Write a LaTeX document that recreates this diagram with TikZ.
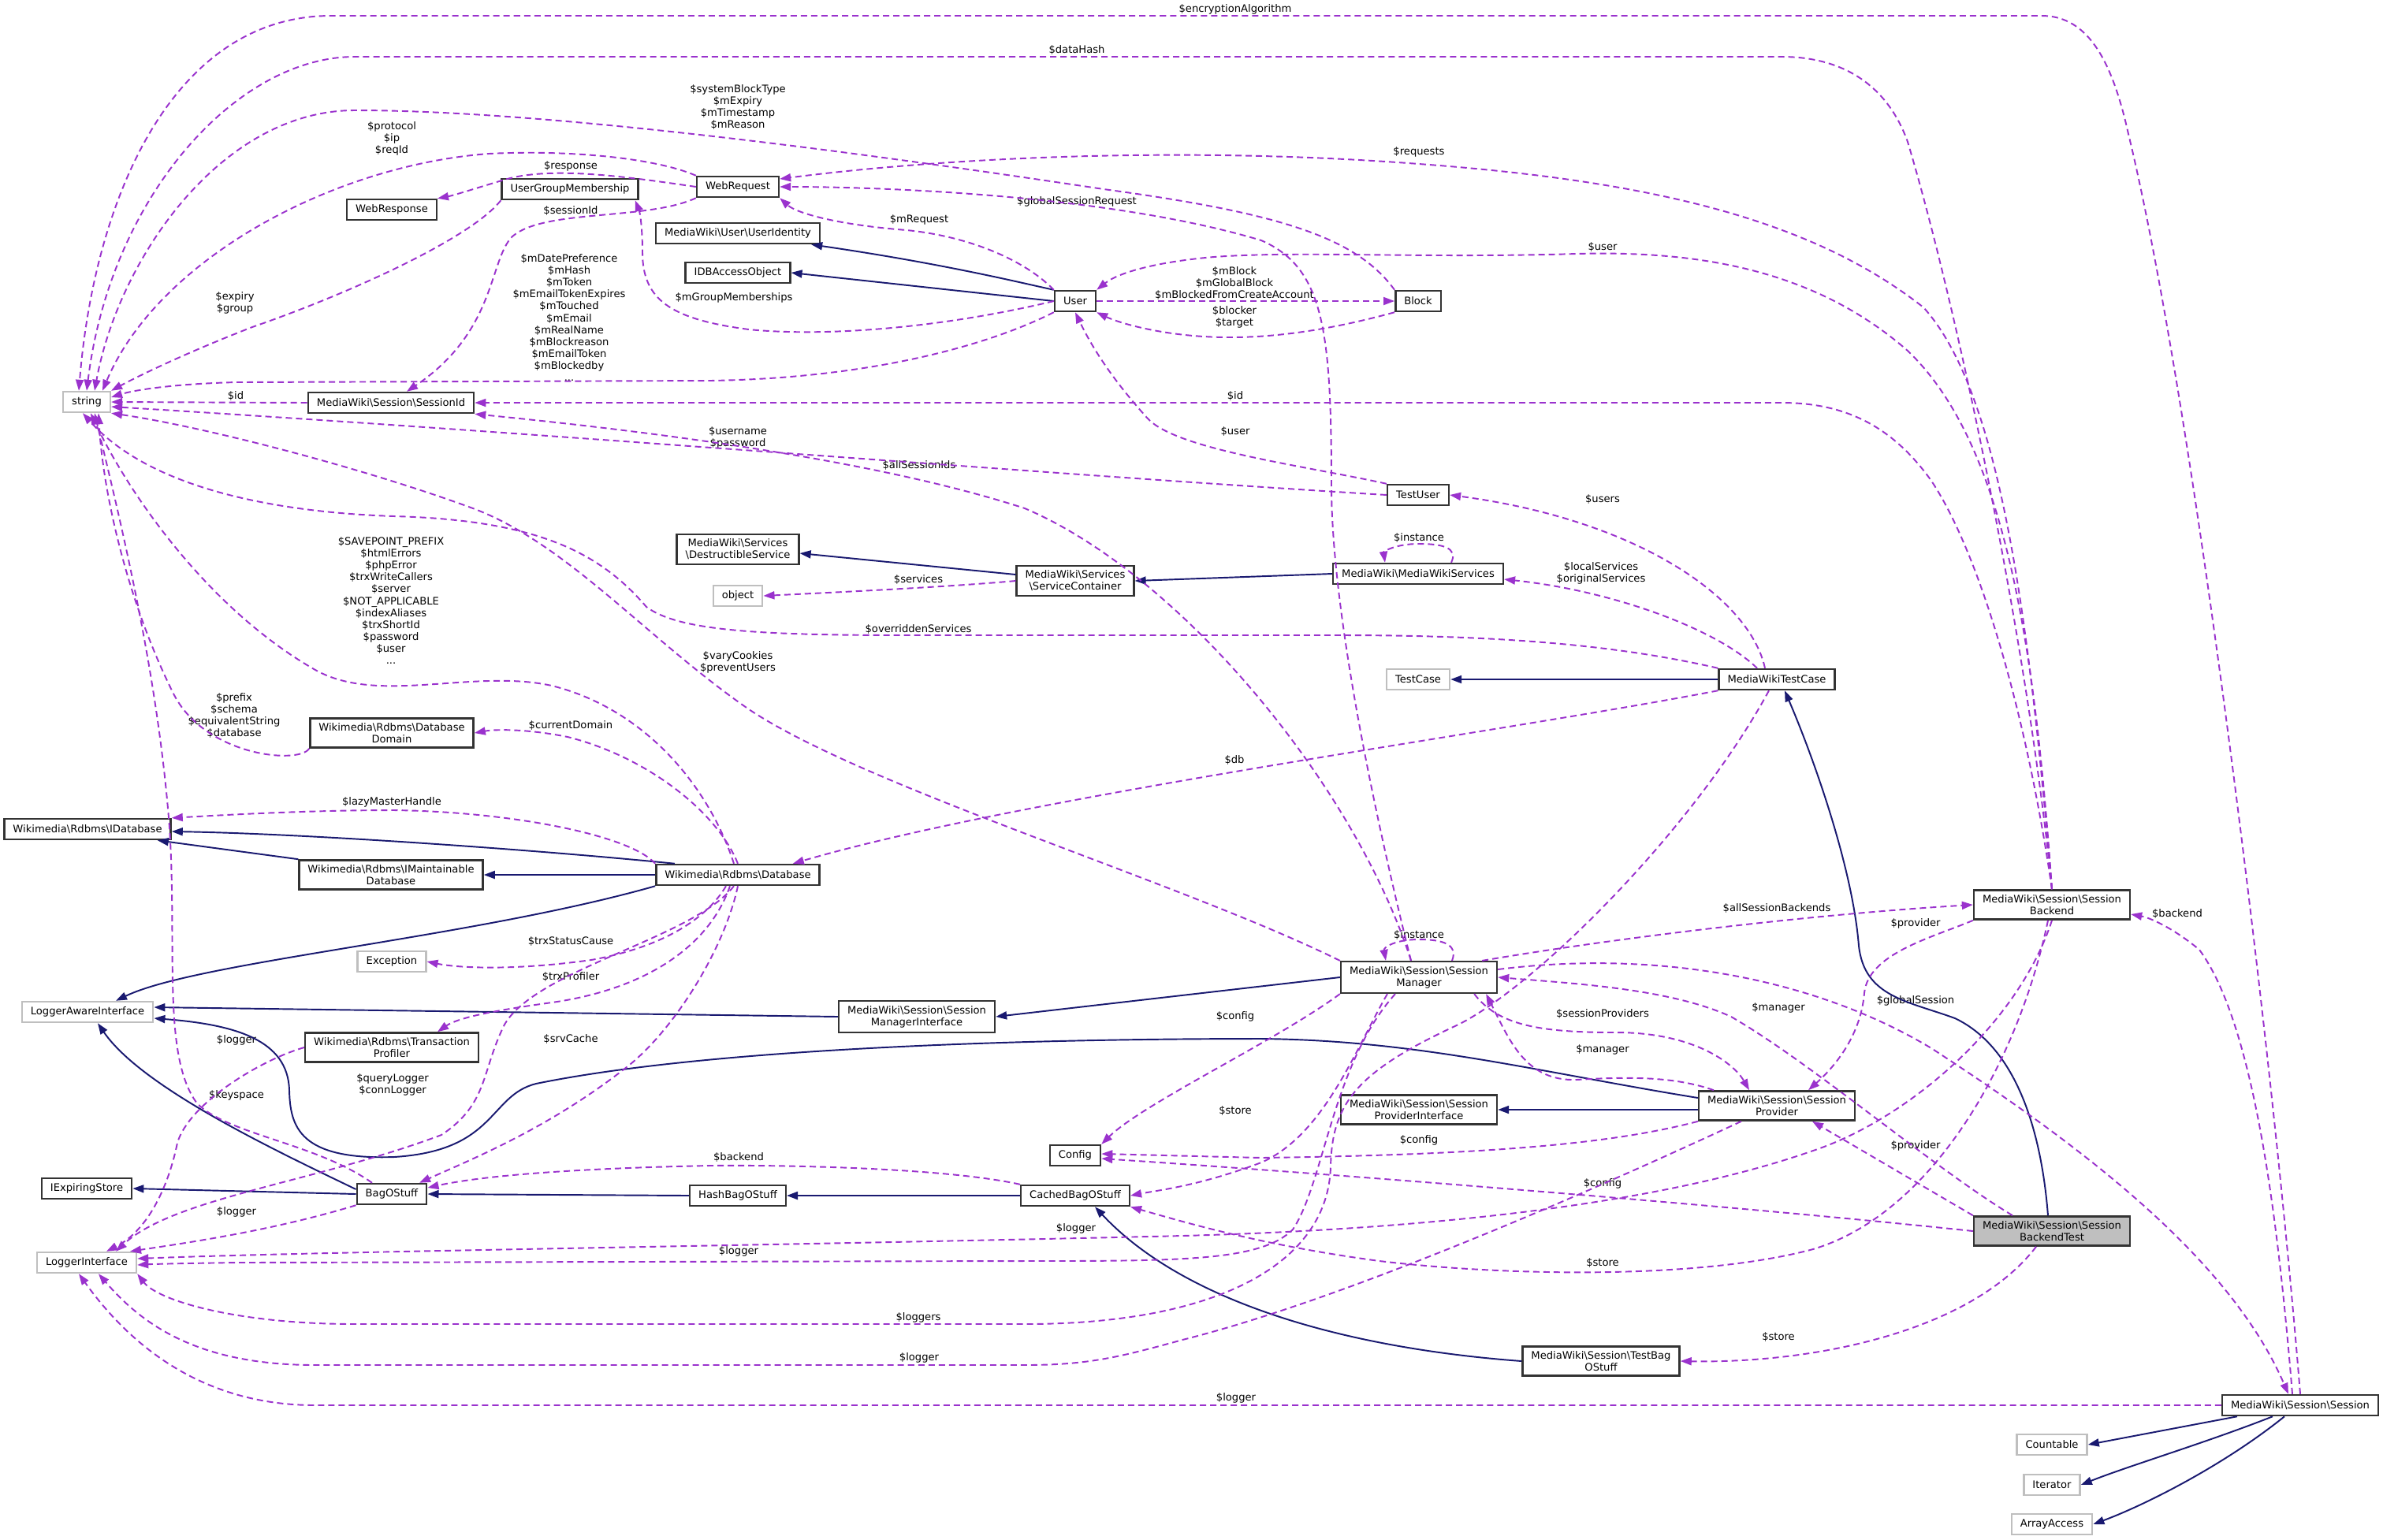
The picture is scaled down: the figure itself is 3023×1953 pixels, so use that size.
\documentclass[tikz,border=0pt]{standalone}
\usepackage{fontspec}
\setmainfont{DejaVu Sans}
\usepackage{tikz}
\usetikzlibrary{arrows.meta}
\definecolor{usecol}{HTML}{9A32CD}
\definecolor{inhcol}{HTML}{191970}
\definecolor{extcol}{HTML}{BFBFBF}
\definecolor{rootfill}{HTML}{BFBFBF}
\newcommand{\graphfont}{\fontsize{3.73pt}{4.27pt}\selectfont}
\newcommand{\bsl}{\textbackslash}

\begin{document}
\begin{tikzpicture}[x=0.01cm, y=-0.01cm,
  cls/.style={draw=black!80, line width=0.7pt, fill=white, font=\graphfont, align=center,
    inner xsep=0.11cm, inner ysep=0.06cm, minimum height=0.26cm},
  ext/.style={cls, draw=extcol},
  lab/.style={font=\graphfont, align=center, inner sep=0pt},
  use/.style={draw=usecol, line width=0.55pt, dash pattern=on 0.08cm off 0.05cm,
    -{Triangle[length=0.14cm, width=0.1cm]}},
  inh/.style={draw=inhcol, line width=0.55pt, -{Triangle[length=0.14cm, width=0.1cm]}}]
  \useasboundingbox[fill=white] (0,0) rectangle (3023,1953);

  \node[ext] (str) at (110,510) {string};
  \node[cls] (wresp) at (497,266) {WebResponse};
  \node[cls] (ugm) at (723,240) {UserGroupMembership};
  \node[cls] (wreq) at (936,237) {WebRequest};
  \node[cls] (uid) at (936,296) {MediaWiki\bsl User\bsl UserIdentity};
  \node[cls] (idbao) at (936,346) {IDBAccessObject};
  \node[cls] (sid) at (496,511) {MediaWiki\bsl Session\bsl SessionId};
  \node[cls] (user) at (1364,382) {User};
  \node[cls] (block) at (1799,382) {Block};
  \node[cls] (tuser) at (1799,628) {TestUser};
  \node[cls] (dsvc) at (936,697) {MediaWiki\bsl Services\\\bsl DestructibleService};
  \node[ext] (obj) at (936,756) {object};
  \node[cls] (scont) at (1364,737) {MediaWiki\bsl Services\\\bsl ServiceContainer};
  \node[cls] (mws) at (1799,728) {MediaWiki\bsl MediaWikiServices};
  \node[ext] (tcase) at (1799,862) {TestCase};
  \node[cls] (mwtc) at (2254,862) {MediaWikiTestCase};
  \node[cls] (dbdom) at (497,930) {Wikimedia\bsl Rdbms\bsl Database\\Domain};
  \node[cls] (idb) at (111,1052) {Wikimedia\bsl Rdbms\bsl IDatabase};
  \node[cls] (imdb) at (496,1110) {Wikimedia\bsl Rdbms\bsl IMaintainable\\Database};
  \node[cls] (db) at (936,1110) {Wikimedia\bsl Rdbms\bsl Database};
  \node[ext] (exc) at (497,1220) {Exception};
  \node[ext] (lai) at (111,1284) {LoggerAwareInterface};
  \node[cls] (trxp) at (497,1329) {Wikimedia\bsl Rdbms\bsl Transaction\\Profiler};
  \node[cls] (iexp) at (110,1508) {IExpiringStore};
  \node[cls] (bag) at (497,1515) {BagOStuff};
  \node[cls] (hbag) at (936,1517) {HashBagOStuff};
  \node[ext] (li) at (110,1602) {LoggerInterface};
  \node[cls] (smgr) at (1800,1240) {MediaWiki\bsl Session\bsl Session\\Manager};
  \node[cls] (smi) at (1163,1290) {MediaWiki\bsl Session\bsl Session\\ManagerInterface};
  \node[cls] (spi) at (1800,1408) {MediaWiki\bsl Session\bsl Session\\ProviderInterface};
  \node[cls] (cfg) at (1364,1466) {Config};
  \node[cls] (cbag) at (1364,1517) {CachedBagOStuff};
  \node[cls] (tbag) at (2031,1727) {MediaWiki\bsl Session\bsl TestBag\\OStuff};
  \node[cls] (sprov) at (2254,1403) {MediaWiki\bsl Session\bsl Session\\Provider};
  \node[cls] (sback) at (2603,1148) {MediaWiki\bsl Session\bsl Session\\Backend};
  \node[cls, fill=rootfill] (sbt) at (2603,1562) {MediaWiki\bsl Session\bsl Session\\BackendTest};
  \node[cls] (sess) at (2918,1783) {MediaWiki\bsl Session\bsl Session};
  \node[ext] (cnt) at (2603,1833) {Countable};
  \node[ext] (iter) at (2603,1884) {Iterator};
  \node[ext] (aacc) at (2603,1934) {ArrayAccess};

  \node[lab] (lEnc) at (1567,12) {\$encryptionAlgorithm};
  \node[lab] (lHash) at (1366,63) {\$dataHash};
  \node[lab] (lSys) at (936,136) {\$systemBlockType\\\$mExpiry\\\$mTimestamp\\\$mReason};
  \node[lab] (lProto) at (497,176) {\$protocol\\\$ip\\\$reqId};
  \node[lab] (lReqs) at (1800,193) {\$requests};
  \node[lab] (lResp) at (724,211) {\$response};
  \node[lab] (lGlobReq) at (1366,256) {\$globalSessionRequest};
  \node[lab] (lSessId) at (724,267) {\$sessionId};
  \node[lab] (lMReq) at (1166,279) {\$mRequest};
  \node[lab] (lUserB) at (2033,313) {\$user};
  \node[lab] (lMBlock) at (1566,359) {\$mBlock\\\$mGlobalBlock\\\$mBlockedFromCreateAccount};
  \node[lab] (lGroups) at (931,378) {\$mGroupMemberships};
  \node[lab] (lExpiry) at (298,384) {\$expiry\\\$group};
  \node[lab] (lBlocker) at (1566,402) {\$blocker\\\$target};
  \node[lab] (lUserStr) at (722,403) {\$mDatePreference\\\$mHash\\\$mToken\\\$mEmailTokenExpires\\\$mTouched\\\$mEmail\\\$mRealName\\\$mBlockreason\\\$mEmailToken\\\$mBlockedby\\...};
  \node[lab] (lId) at (299,502) {\$id};
  \node[lab] (lIdB) at (1567,502) {\$id};
  \node[lab] (lTUser) at (1567,547) {\$user};
  \node[lab] (lUname) at (936,555) {\$username\\\$password};
  \node[lab] (lAllIds) at (1166,590) {\$allSessionIds};
  \node[lab] (lUsers) at (2033,633) {\$users};
  \node[lab] (lInstW) at (1800,682) {\$instance};
  \node[lab] (lLocal) at (2031,727) {\$localServices\\\$originalServices};
  \node[lab] (lServices) at (1165,735) {\$services};
  \node[lab] (lSave) at (496,762) {\$SAVEPOINT\_PREFIX\\\$htmlErrors\\\$phpError\\\$trxWriteCallers\\\$server\\\$NOT\_APPLICABLE\\\$indexAliases\\\$trxShortId\\\$password\\\$user\\...};
  \node[lab] (lOverr) at (1165,798) {\$overriddenServices};
  \node[lab] (lVary) at (936,840) {\$varyCookies\\\$preventUsers};
  \node[lab] (lPrefix) at (297,908) {\$prefix\\\$schema\\\$equivalentString\\\$database};
  \node[lab] (lCurDom) at (724,920) {\$currentDomain};
  \node[lab] (lDb) at (1566,964) {\$db};
  \node[lab] (lLazy) at (497,1018) {\$lazyMasterHandle};
  \node[lab] (lAllB) at (2254,1152) {\$allSessionBackends};
  \node[lab] (lBackS) at (2762,1159) {\$backend};
  \node[lab] (lProvB) at (2430,1172) {\$provider};
  \node[lab] (lInstM) at (1800,1186) {\$instance};
  \node[lab] (lCause) at (724,1194) {\$trxStatusCause};
  \node[lab] (lProf) at (724,1239) {\$trxProfiler};
  \node[lab] (lGlobS) at (2430,1270) {\$globalSession};
  \node[lab] (lMgrT) at (2256,1279) {\$manager};
  \node[lab] (lSProv) at (2033,1286) {\$sessionProviders};
  \node[lab] (lCfgM) at (1567,1290) {\$config};
  \node[lab] (lSrv) at (724,1318) {\$srvCache};
  \node[lab] (lTpLog) at (300,1320) {\$logger};
  \node[lab] (lMgrP) at (2033,1332) {\$manager};
  \node[lab] (lQLog) at (498,1376) {\$queryLogger\\\$connLogger};
  \node[lab] (lKey) at (300,1390) {\$keyspace};
  \node[lab] (lStoreM) at (1567,1409) {\$store};
  \node[lab] (lCfgP) at (1800,1447) {\$config};
  \node[lab] (lProvT) at (2430,1454) {\$provider};
  \node[lab] (lBackend) at (937,1468) {\$backend};
  \node[lab] (lCfgT) at (2033,1502) {\$config};
  \node[lab] (lBagLog) at (300,1538) {\$logger};
  \node[lab] (lLogB) at (1365,1559) {\$logger};
  \node[lab] (lLogM) at (937,1588) {\$logger};
  \node[lab] (lStoreB) at (2033,1602) {\$store};
  \node[lab] (lLoggers) at (1165,1672) {\$loggers};
  \node[lab] (lStoreT) at (2256,1696) {\$store};
  \node[lab] (lLogP) at (1166,1723) {\$logger};
  \node[lab] (lLogS) at (1568,1774) {\$logger};

  \draw[inh] (user.north west) .. controls (1300,360) and (1200,335) .. ([xshift=-0.12cm]uid.south east);
  \draw[inh] (user.west) -- (idbao.east);
  \draw[inh] ([yshift=0.08cm]scont.west) -- ([yshift=-0.05cm]dsvc.east);
  \draw[inh] (mws.west) -- (scont.east);
  \draw[inh] (mwtc.west) -- (tcase.east);
  \draw[inh] ([xshift=-0.05cm]sbt.north) .. controls (2590,1440) and (2560,1330) .. (2480,1292)
    .. controls (2420,1270) and (2365,1265) .. (2358,1200) .. controls (2350,1100) and (2300,960) .. ([xshift=0.1cm]mwtc.south);
  \draw[inh] ([xshift=-0.8cm]db.north) .. controls (700,1080) and (400,1058) .. ([yshift=-0.03cm]idb.east);
  \draw[inh] (db.west) -- (imdb.east);
  \draw[inh] (imdb.north west) -- ([xshift=-0.18cm]idb.south east);
  \draw[inh] (db.south west) .. controls (600,1190) and (250,1220) .. ([xshift=0.36cm]lai.north);
  \draw[inh] (smi.west) -- ([yshift=0.06cm]lai.east);
  \draw[inh] ([yshift=0.1cm]sprov.west) .. controls (1950,1360) and (1800,1320) .. (1600,1318)
    .. controls (1300,1318) and (900,1330) .. (680,1375) .. controls (620,1390) and (630,1460) .. (500,1468)
    .. controls (380,1472) and (368,1430) .. (367,1383) .. controls (365,1320) and (300,1300) .. ([yshift=-0.08cm]lai.east);
  \draw[inh] ([yshift=0.06cm]bag.west) .. controls (350,1460) and (180,1380) .. ([xshift=0.13cm]lai.south);
  \draw[inh] (bag.west) -- (iexp.east);
  \draw[inh] (hbag.west) -- (bag.east);
  \draw[inh] (cbag.west) -- (hbag.east);
  \draw[inh] (tbag.west) .. controls (1700,1710) and (1500,1650) .. ([xshift=0.25cm]cbag.south);
  \draw[inh] (smgr.west) -- (smi.east);
  \draw[inh] ([yshift=-0.05cm]sprov.west) -- (spi.east);
  \draw[inh] ([xshift=-0.8cm]sess.south) -- (cnt.east);
  \draw[inh] ([xshift=-0.35cm]sess.south) .. controls (2800,1830) and (2700,1860) .. (iter.east);
  \draw[inh] ([xshift=-0.2cm]sess.south) .. controls (2820,1860) and (2720,1910) .. (aacc.east);

  \draw[use] (sess.north) .. controls (2880,1300) and (2780,500) .. (2700,170)
    .. controls (2680,80) and (2650,20) .. (2590,20) -- (420,20) .. controls (220,20) and (120,250) .. ([xshift=-0.1cm]str.north);
  \draw[use] (sback.north) .. controls (2570,800) and (2480,380) .. (2420,180)
    .. controls (2395,110) and (2340,72) .. (2260,72) -- (450,72) .. controls (300,72) and (140,250) .. (str.north);
  \draw[use] (block.north west) .. controls (1720,300) and (1620,270) .. (1400,240)
    .. controls (1100,195) and (700,140) .. (450,140) .. controls (280,140) and (150,330) .. ([xshift=0.1cm]str.north);
  \draw[use] (wreq.north west) .. controls (830,200) and (720,190) .. (620,195)
    .. controls (420,210) and (200,330) .. ([xshift=0.2cm]str.north);
  \draw[use] (ugm.south west) .. controls (600,300) and (450,370) .. (320,415)
    .. controls (230,450) and (170,480) .. (str.north east);
  \draw[use] (wreq.west) .. controls (800,225) and (700,210) .. (640,228)
    .. controls (600,240) and (575,248) .. (wresp.north east);
  \draw[use] (wreq.south west) .. controls (820,280) and (690,265) .. (650,300)
    .. controls (620,330) and (630,420) .. ([xshift=0.2cm]sid.north);
  \draw[use] (user.west) .. controls (1200,415) and (1050,428) .. (950,418)
    .. controls (850,405) and (815,380) .. (815,320) .. controls (815,290) and (812,270) .. ([xshift=-0.05cm]ugm.south east);
  \draw[use] (user.south west) .. controls (1250,440) and (1100,480) .. (900,483) -- (300,485)
    .. controls (220,487) and (170,495) .. ([yshift=0.06cm]str.east);
  \draw[use] (sid.west) -- (str.east);
  \draw[use] (sback.north) .. controls (2570,900) and (2510,700) .. (2450,610)
    .. controls (2400,540) and (2340,511) .. (2260,511) -- (sid.east);
  \draw[use] (tuser.west) .. controls (1300,600) and (700,550) .. ([yshift=-0.06cm]str.east);
  \draw[use] ([xshift=-0.1cm]smgr.north) .. controls (1720,1000) and (1500,730) .. (1300,645)
    .. controls (1100,580) and (800,545) .. (sid.south east);
  \draw[use] (sback.north) .. controls (2580,800) and (2540,560) .. (2420,445)
    .. controls (2300,340) and (2150,318) .. (2000,322) .. controls (1800,328) and (1650,318) .. (1540,326)
    .. controls (1470,332) and (1420,345) .. (user.north east);
  \draw[use] (block.south west) .. controls (1700,415) and (1630,428) .. (1560,428)
    .. controls (1480,428) and (1420,410) .. (user.south east);
  \draw[use] (user.east) -- (block.west);
  \draw[use] ([xshift=-0.1cm]smgr.north) .. controls (1760,1100) and (1690,800) .. (1689,620)
    .. controls (1689,420) and (1680,340) .. (1600,305) .. controls (1400,245) and (1100,237) .. (wreq.east);
  \draw[use] (sback.north) .. controls (2575,800) and (2540,500) .. (2440,390)
    .. controls (2300,280) and (2100,230) .. (1800,208) .. controls (1500,185) and (1200,200) .. ([yshift=0.1cm]wreq.east);
  \draw[use] (user.north west) .. controls (1300,330) and (1230,300) .. (1150,292)
    .. controls (1060,285) and (1010,270) .. (wreq.south east);
  \draw[use] (tuser.north west) .. controls (1650,590) and (1490,570) .. (1455,530)
    .. controls (1410,480) and (1385,440) .. (user.south);
  \draw[use] ([xshift=-0.15cm]mwtc.north) .. controls (2220,760) and (2080,660) .. (tuser.east);
  \draw[use] ([xshift=-0.25cm]mwtc.north) .. controls (2180,800) and (2050,750) .. ([yshift=-0.07cm]mws.east);
  \draw[use] ([xshift=0.42cm]mws.north) .. controls (1850,695) and (1830,690) .. (1800,690)
    .. controls (1770,690) and (1755,700) .. ([xshift=-0.42cm]mws.north);
  \draw[use] (scont.west) .. controls (1200,745) and (1050,752) .. (obj.east);
  \draw[use] (mwtc.north west) .. controls (2050,818) and (1900,806) .. (1700,806) -- (1150,806)
    .. controls (960,806) and (860,800) .. (820,770) .. controls (760,700) and (680,660) .. (500,655)
    .. controls (350,650) and (190,620) .. ([xshift=-0.05cm]str.south);
  \draw[use] (mwtc.south west) .. controls (1900,930) and (1300,1010) .. ([xshift=-0.35cm]db.north east);
  \draw[use] ([xshift=-0.05cm]db.north) .. controls (900,1000) and (820,900) .. (700,870)
    .. controls (600,848) and (480,895) .. (400,850) .. controls (260,770) and (160,620) .. ([xshift=0.05cm]str.south);
  \draw[use] (dbdom.south west) .. controls (380,970) and (260,960) .. (220,880)
    .. controls (160,760) and (130,620) .. ([xshift=0.15cm]str.south);
  \draw[use] (smgr.north west) .. controls (1500,1120) and (1100,1000) .. (950,900)
    .. controls (820,810) and (720,690) .. (600,645) .. controls (450,590) and (250,540) .. (str.south east);
  \draw[use] (db.north) .. controls (910,1030) and (820,960) .. (720,935)
    .. controls (670,925) and (630,925) .. (dbdom.east);
  \draw[use] (db.north west) .. controls (800,1060) and (650,1030) .. (500,1028)
    .. controls (380,1028) and (270,1035) .. (idb.north east);
  \draw[use] ([xshift=-0.15cm]db.south) .. controls (900,1160) and (850,1200) .. (750,1218)
    .. controls (650,1232) and (580,1228) .. (exc.east);
  \draw[use] ([xshift=-0.1cm]db.south) .. controls (900,1200) and (820,1255) .. (700,1272)
    .. controls (620,1283) and (580,1292) .. ([xshift=0.58cm]trxp.north);
  \draw[use] (db.south) .. controls (920,1200) and (860,1300) .. (800,1350)
    .. controls (700,1430) and (600,1470) .. ([xshift=0.35cm]bag.north);
  \draw[use] ([xshift=-0.05cm]db.south) .. controls (880,1190) and (680,1230) .. (640,1300)
    .. controls (610,1360) and (620,1400) .. (560,1440) .. controls (400,1500) and (220,1520) .. ([xshift=0.37cm]li.north);
  \draw[use] (trxp.west) .. controls (330,1345) and (240,1400) .. (225,1450)
    .. controls (215,1500) and (190,1560) .. ([xshift=0.25cm]li.north);
  \draw[use] ([xshift=-0.25cm]bag.north) .. controls (400,1450) and (290,1440) .. (250,1400)
    .. controls (205,1340) and (225,1200) .. (215,1050) .. controls (200,850) and (150,650) .. ([xshift=0.1cm]str.south);
  \draw[use] (bag.south west) .. controls (350,1560) and (250,1575) .. ([xshift=0.55cm]li.north);
  \draw[use] (cbag.north west) .. controls (1200,1482) and (1000,1478) .. (900,1479)
    .. controls (750,1482) and (620,1490) .. ([yshift=0.08cm]bag.east);
  \draw[use] (smgr.south west) .. controls (1620,1320) and (1450,1400) .. (cfg.north east);
  \draw[use] ([xshift=-0.4cm]smgr.south) .. controls (1720,1330) and (1680,1440) .. (1600,1475)
    .. controls (1520,1505) and (1470,1510) .. (cbag.east);
  \draw[use] ([xshift=-0.3cm]smgr.south) .. controls (1690,1350) and (1680,1500) .. (1640,1560)
    .. controls (1600,1600) and (1500,1600) .. (1300,1600) -- (300,1602)
    .. controls (230,1603) and (190,1604) .. ([yshift=-0.03cm]li.east);
  \draw[use] (sback.south) .. controls (2560,1300) and (2420,1420) .. (2300,1460)
    .. controls (2100,1530) and (1800,1560) .. (1500,1568) .. controls (1000,1580) and (400,1588) .. ([yshift=0.05cm]li.east);
  \draw[use] ([xshift=-0.1cm]mwtc.south) .. controls (2150,1050) and (1950,1250) .. (1850,1300)
    .. controls (1720,1360) and (1690,1400) .. (1688,1480) .. controls (1685,1600) and (1550,1680) .. (1300,1680)
    -- (450,1680) .. controls (300,1680) and (200,1650) .. (li.south east);
  \draw[use] ([xshift=0.55cm]sprov.south west) .. controls (2000,1520) and (1700,1650) .. (1500,1700)
    .. controls (1420,1722) and (1380,1732) .. (1300,1732) -- (400,1732)
    .. controls (250,1732) and (180,1680) .. ([xshift=0.15cm]li.south);
  \draw[use] (sess.west) -- (400,1783) .. controls (250,1783) and (160,1700) .. ([xshift=-0.1cm]li.south);
  \draw[use] ([xshift=-0.1cm]sess.north) .. controls (2890,1550) and (2860,1300) .. (2790,1205)
    .. controls (2760,1180) and (2730,1165) .. ([yshift=-0.12cm]sback.east);
  \draw[use] ([yshift=0.1cm]smgr.east) .. controls (2100,1205) and (2300,1240) .. (2450,1330)
    .. controls (2650,1460) and (2830,1600) .. ([xshift=-0.15cm]sess.north);
  \draw[use] ([xshift=-0.2cm]smgr.north east) .. controls (2050,1190) and (2300,1160) .. (sback.west);
  \draw[use] ([xshift=-0.3cm]smgr.south east) .. controls (1900,1300) and (1950,1310) .. (2050,1310)
    .. controls (2150,1310) and (2200,1350) .. ([xshift=-0.35cm]sprov.north);
  \draw[use] ([xshift=-0.8cm]sprov.north) .. controls (2130,1368) and (2080,1365) .. (2000,1370)
    .. controls (1935,1372) and (1915,1320) .. ([xshift=-0.15cm]smgr.south east);
  \draw[use] ([xshift=-0.5cm]sbt.north) .. controls (2450,1480) and (2300,1350) .. (2196,1290)
    .. controls (2120,1255) and (2000,1248) .. (smgr.east);
  \draw[use] (sback.south west) .. controls (2450,1190) and (2370,1210) .. (2365,1260)
    .. controls (2360,1320) and (2320,1360) .. ([xshift=0.4cm]sprov.north);
  \draw[use] (sbt.north west) -- ([xshift=0.45cm]sprov.south);
  \draw[use] (sbt.west) .. controls (2200,1530) and (1700,1490) .. ([yshift=-0.04cm]cfg.east);
  \draw[use] (sprov.south west) .. controls (2050,1450) and (1900,1465) .. (1600,1469) -- ([yshift=0.02cm]cfg.east);
  \draw[use] ([xshift=-0.05cm]sback.south) .. controls (2560,1350) and (2450,1540) .. (2300,1585)
    .. controls (2150,1625) and (1900,1618) .. (1750,1600) .. controls (1600,1580) and (1500,1550) .. (cbag.south east);
  \draw[use] ([xshift=-0.2cm]sbt.south) .. controls (2500,1690) and (2300,1730) .. (tbag.east);
  \draw[use] ([xshift=0.42cm]smgr.north) .. controls (1850,1198) and (1830,1192) .. (1800,1192)
    .. controls (1770,1192) and (1755,1202) .. ([xshift=-0.42cm]smgr.north);
\end{tikzpicture}
\end{document}
